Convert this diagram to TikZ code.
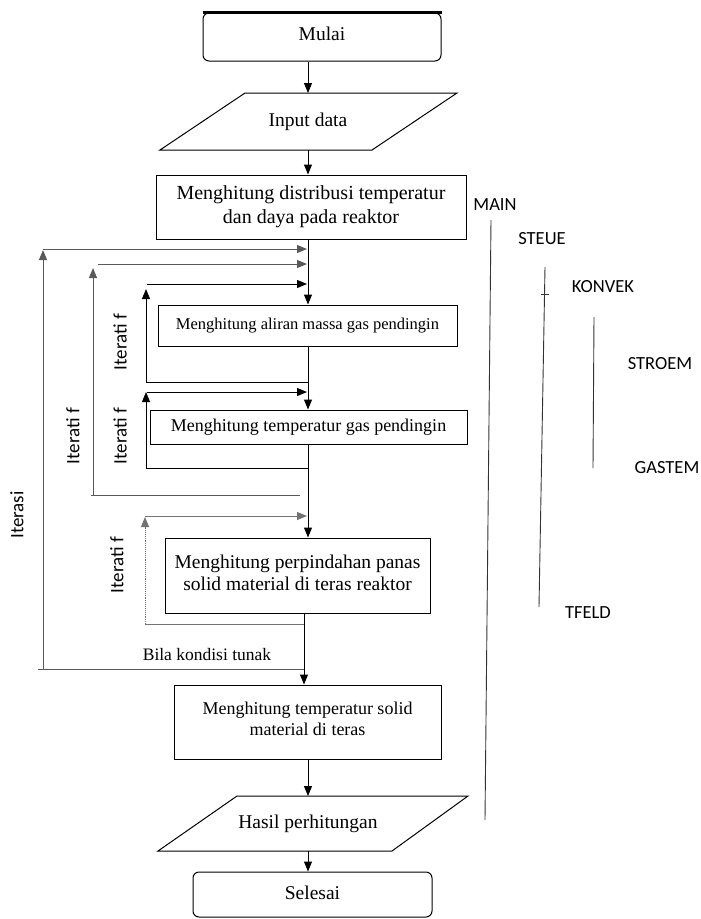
\documentclass[tikz,border=0pt]{standalone}
\usepackage{fontspec}
\setmainfont{Liberation Serif}
\newfontfamily\lblfont{Carlito}
\usetikzlibrary{arrows.meta}
\begin{document}
\begin{tikzpicture}[x=1pt,y=-1pt,
  box/.style={draw, line width=1pt, inner sep=0pt, align=center, font=\fontsize{18}{24}\selectfont},
  term/.style={box, rounded corners=6pt, font=\fontsize{19.5}{24}\selectfont},
  txt/.style={inner sep=0pt, align=center, font=\fontsize{19.5}{24}\selectfont},
  tip/.style={-{Triangle[length=10pt,width=8pt]}},
  flow/.style={line width=1pt, tip},
  lp/.style={draw=black!65, line width=1pt},
  lpar/.style={lp, tip},
  vlab/.style={rotate=90, inner sep=0pt, font=\lblfont\fontsize{19}{20}\selectfont},
  rlab/.style={inner sep=0pt, font=\lblfont\fontsize{18.5}{20}\selectfont},
  sub/.style={line width=0.9pt, draw=black!80}
]
\useasboundingbox (0,0) rectangle (701,919);

\coordinate (sp) at (308,0);
\coordinate (sp2) at (304,0);

% terminals and boxes
\node[term, minimum width=238pt, minimum height=48pt] (mulai) at (322,37) {\raisebox{7pt}{Mulai}};
\draw[line width=2.2pt] (mulai.north west) -- (mulai.north east);

\draw[line width=1pt] (245,93) -- (457,93) -- (372,150) -- (160,150) -- cycle;
\coordinate (intop) at (308,93);
\coordinate (inbot) at (308,150);
\node[txt] (input) at (308,122) {Input data};

\node[box, minimum width=310pt, minimum height=64pt, font=\fontsize{20}{24}\selectfont] (box1) at (311,207)
  {Menghitung distribusi temperatur\\dan daya pada reaktor};
\node[box, minimum width=299pt, minimum height=41pt, font=\fontsize{16.5}{20}\selectfont] (box2) at (307.5,325.5)
  {Menghitung aliran massa gas pendingin};
\node[box, minimum width=317pt, minimum height=34pt] (box3) at (308.5,427)
  {Menghitung temperatur gas pendingin};
\node[box, minimum width=265pt, minimum height=75pt, font=\fontsize{19.5}{26}\selectfont] (box4) at (297.5,575.5)
  {\raisebox{5pt}{\shortstack{Menghitung perpindahan panas\\[1pt]solid material di teras reaktor}}};
\node[box, minimum width=267pt, minimum height=74pt] (box5) at (307.5,722)
  {\raisebox{6pt}{\shortstack{Menghitung temperatur solid\\[2pt]material di teras}}};

\draw[line width=1pt] (237,796) -- (468,796) -- (392,851) -- (158,851) -- cycle;
\coordinate (hstop) at (308,796);
\coordinate (hsbot) at (308,851);
\node[txt] (hasil) at (308,824) {Hasil perhitungan};

\node[term, minimum width=239pt, minimum height=45pt] (selesai) at (312.5,894.5) {\raisebox{3pt}{Selesai}};

% main flow
\draw[flow] (mulai.south -| sp) -- (intop);
\draw[flow] (inbot) -- (box1.north -| sp);
\draw[flow] (box1.south -| sp) -- (box2.north -| sp);
\draw[flow] (box2.south -| sp) -- (box3.north -| sp);
\draw[flow] (box3.south -| sp) -- (box4.north -| sp);
\draw[flow] (box4.south -| sp2) -- (box5.north -| sp2);
\draw[flow] (box5.south -| sp) -- (hstop);
\draw[flow] (hsbot) -- (selesai.north -| sp);

% outer loop: Iterasi
\coordinate (oA) at (38,669);
\coordinate (oB) at (304,669);
\coordinate (oC) at (43,669);
\coordinate (oD) at (43,250);
\coordinate (oE) at (43,249);
\coordinate (oF) at (307,249);
\draw[lp] (oA) -- (oB);
\draw[lpar] (oC) -- (oD);
\draw[lpar] (oE) -- (oF);
\node[vlab] (l0) at (17,515) {Iterasi};
\node[inner sep=0pt, font=\fontsize{17.5}{20}\selectfont] (tunak) at (207,655) {Bila kondisi tunak};

% loop 2: Iteratif (outer)
\coordinate (aA) at (91,495);
\coordinate (aB) at (300,495);
\coordinate (aC) at (93,495);
\coordinate (aD) at (93,268);
\coordinate (aE) at (98,264);
\coordinate (aF) at (307,264);
\draw[lp] (aA) -- (aB);
\draw[lpar] (aC) -- (aD);
\draw[lpar] (aE) -- (aF);
\node[vlab] (l1) at (73,436) {Iterati f};

% loop 3: Iteratif (aliran)
\coordinate (bA) at (146,382);
\coordinate (bB) at (308,382);
\coordinate (bD) at (146,289);
\coordinate (bE) at (147,284);
\coordinate (bF) at (307,284);
\draw[lp, draw=black] (bB) -- (bA);
\draw[flow] (bA) -- (bD);
\draw[flow] (bE) -- (bF);
\node[vlab] (l2) at (120,342) {Iterati f};

% loop 4: Iteratif (temperatur gas)
\coordinate (cA) at (146,468);
\coordinate (cB) at (308,468);
\coordinate (cD) at (146,392);
\coordinate (cE) at (147,392);
\coordinate (cF) at (307,392);
\draw[lp, draw=black] (cB) -- (cA);
\draw[flow] (cA) -- (cD);
\draw[flow] (cE) -- (cF);
\node[vlab] (l3) at (120,436) {Iterati f};

% loop 5: Iteratif (perpindahan)
\coordinate (dA) at (145,624);
\coordinate (dB) at (304,624);
\coordinate (dD) at (145,517);
\coordinate (dE) at (145,516);
\coordinate (dF) at (307,516);
\draw[lp, draw=black!55, line width=0.9pt] (dB) -- (dA);
\draw[draw=black!55, line width=0.9pt, densely dotted, -{Triangle[length=10pt,width=8pt]}] (dA) -- (dD);
\draw[draw=black!55, line width=0.9pt, -{Triangle[length=10pt,width=8pt]}] (dE) -- (dF);
\node[vlab] (l4) at (117,565) {Iterati f};

% subroutine levels
\node[rlab] (main) at (495,205) {MAIN};
\coordinate (m1) at (491,220);
\coordinate (m2) at (485,820);
\draw[sub] (m1) -- (m2);

\node[rlab] (steue) at (542,239) {STEUE};
\coordinate (s1) at (545,267);
\coordinate (s2) at (539,607);
\draw[sub] (s1) -- (s2);
\coordinate (t1) at (541,294);
\coordinate (t2) at (549,294);
\draw[sub] (t1) -- (t2);

\node[rlab] (konvek) at (603,287) {KONVEK};
\coordinate (k1) at (594,317);
\coordinate (k2) at (593,468);
\draw[sub] (k1) -- (k2);

\node[rlab] (stroem) at (660,364) {STROEM};
\node[rlab] (gastem) at (667,468) {GASTEM};
\node[rlab] (tfeld) at (588,613) {TFELD};
\end{tikzpicture}
\end{document}
